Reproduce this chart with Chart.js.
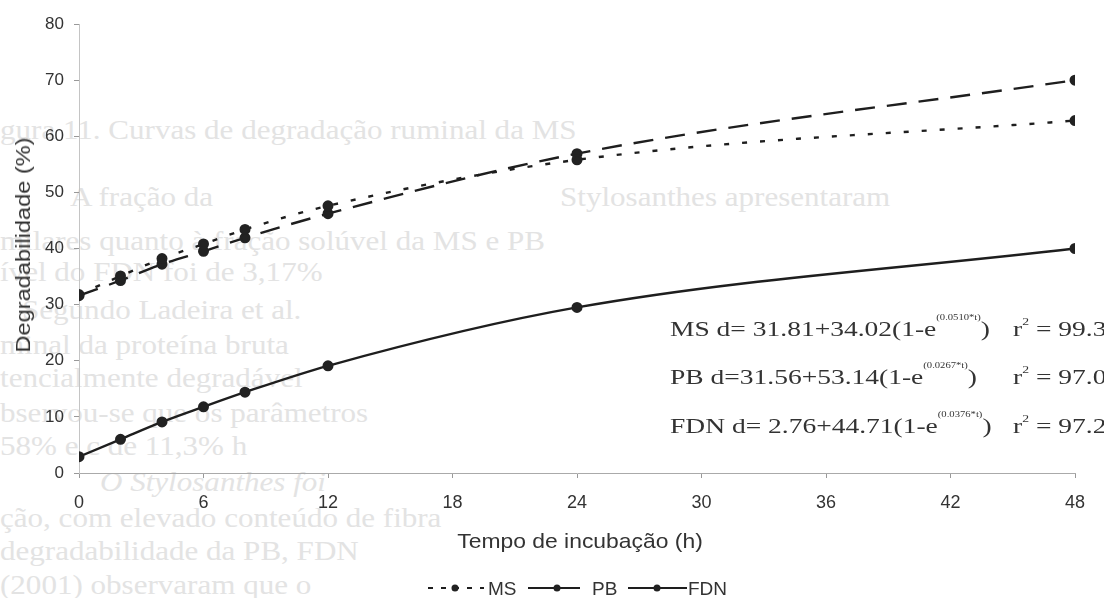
<!DOCTYPE html>
<html>
<head>
<meta charset="utf-8">
<script src="https://cdn.jsdelivr.net/npm/chart.js@4"></script>
<style>
  html, body { margin: 0; padding: 0; background: #fff; }
  #wrap { position: relative; width: 1104px; height: 598px; overflow: hidden; background: #fff; }
  #bg { position: absolute; left: 0; top: 0; width: 1104px; height: 598px; z-index: 0; }
  #bg div { position: absolute; font-family: "Liberation Serif", "DejaVu Serif", serif; font-size: 27px; color: #e3e3e3; white-space: nowrap; line-height: 1; transform-origin: left center; transform: scaleX(1.15); }
  #c { position: absolute; left: 0; top: 0; z-index: 1; }
  .eq { position: absolute; z-index: 2; font-family: "Liberation Serif", "DejaVu Serif", serif; font-size: 22px; color: #333; white-space: nowrap; line-height: 1; transform-origin: left center; transform: scaleX(1.25); }
  .eq sup { font-size: 8.5px; position: relative; top: -8px; }
  .r2 sup { font-size: 11px; top: -3px; }
  .ttl { position: absolute; z-index: 2; font-family: "Liberation Sans", Arial, sans-serif; color: #333; white-space: nowrap; line-height: 1; }
  .lg { position: absolute; z-index: 2; font-family: "Liberation Sans", Arial, sans-serif; font-size: 19px; color: #333; white-space: nowrap; line-height: 1; top: 579px; }
  #lgsvg { position: absolute; left: 0; top: 0; z-index: 2; }
</style>
</head>
<body>
<div id="wrap">
  <div id="bg">
    <div style="left:0px; top:117px;">gura 11. Curvas de degradação ruminal da MS</div>
    <div style="left:70px; top:184px;">A  fração  da</div>
    <div style="left:560px; top:184px;">Stylosanthes  apresentaram</div>
    <div style="left:0px; top:228px;">milares quanto à fração solúvel da MS e PB</div>
    <div style="left:0px; top:259px;">ível do FDN foi de 3,17%</div>
    <div style="left:22px; top:297px;">Segundo Ladeira et al.</div>
    <div style="left:0px; top:332px;">minal da  proteína  bruta</div>
    <div style="left:0px; top:365px;">tencialmente degradável</div>
    <div style="left:0px; top:400px;">bservou-se que os parâmetros</div>
    <div style="left:0px; top:433px;">58% e c de 11,3% h</div>
    <div style="left:100px; top:469px; font-style:italic;">O Stylosanthes foi</div>
    <div style="left:0px; top:505px;">ção, com elevado conteúdo de fibra</div>
    <div style="left:0px; top:538px;">degradabilidade da PB, FDN</div>
    <div style="left:0px; top:572px;">(2001) observaram que o</div>
  </div>
  <canvas id="c" width="1104" height="598"></canvas>
  <div class="eq" style="left:670px; top:318px;">MS d= 31.81+34.02(1-e<sup>(0.0510*t)</sup>)</div>
  <div class="eq r2" style="left:1013px; top:318px;">r<sup>2</sup> = 99.3</div>
  <div class="eq" style="left:670px; top:366px;">PB d=31.56+53.14(1-e<sup>(0.0267*t)</sup>)</div>
  <div class="eq r2" style="left:1013px; top:366px;">r<sup>2</sup> = 97.0</div>
  <div class="eq" style="left:670px; top:415px;">FDN d= 2.76+44.71(1-e<sup>(0.0376*t)</sup>)</div>
  <div class="eq r2" style="left:1013px; top:415px;">r<sup>2</sup> = 97.2</div>
  <div id="ytitle" class="ttl"></div>
  <div id="xtitle" class="ttl"></div>
  <svg id="lgsvg" width="1104" height="598"></svg>
</div>
<script>
// ---- data ----
const hours = [0, 2, 4, 6, 8, 12, 24, 48];
const msValues  = [31.8, 35.1, 38.2, 40.8, 43.4, 47.6, 55.8, 62.8];
const pbValues  = [31.6, 34.3, 37.2, 39.5, 41.9, 46.2, 56.9, 70.0];
const fdnValues = [2.9, 6.0, 9.1, 11.8, 14.4, 19.1, 29.5, 40.0];
const seriesNames = ["MS", "PB", "FDN"];
const xTicks = [0, 6, 12, 18, 24, 30, 36, 42, 48];
const yTicks = [0, 10, 20, 30, 40, 50, 60, 70, 80];
const xTitle = "Tempo de incubação (h)";
const yTitle = "Degradabilidade (%)";

const dashes = [[5, 13], [20, 12], []];
const lineColor = "#1e1e1e";

function pts(vals) { return hours.map((h, i) => ({ x: h, y: vals[i] })); }

const datasets = [msValues, pbValues, fdnValues].map((vals, i) => ({
  label: seriesNames[i],
  data: pts(vals),
  borderColor: lineColor,
  backgroundColor: lineColor,
  borderWidth: 2.4,
  borderDash: dashes[i],
  pointRadius: 4.3,
  pointHoverRadius: 4.3,
  pointBackgroundColor: "#222",
  pointBorderColor: "#222",
  cubicInterpolationMode: "monotone",
  fill: false
}));

const fontFam = "'Liberation Sans', Arial, sans-serif";

new Chart(document.getElementById("c"), {
  type: "line",
  data: { datasets },
  options: {
    responsive: false,
    animation: false,
    devicePixelRatio: 1,
    layout: { padding: { top: 24, right: 29, left: 0, bottom: 50 } },
    plugins: { legend: { display: false }, tooltip: { enabled: false } },
    scales: {
      x: {
        type: "linear",
        min: 0, max: 48,
        afterBuildTicks: s => { s.ticks = xTicks.map(v => ({ value: v })); },
        afterFit: s => { s.height = 75; },
        ticks: { font: { family: fontFam, size: 18 }, color: "#333", padding: 14, maxRotation: 0 },
        grid: { drawOnChartArea: false, drawTicks: true, tickLength: 5, color: "#999" },
        border: { display: true, color: "#aaa", dash: [3, 2], width: 1 }
      },
      y: {
        min: 0, max: 80,
        afterBuildTicks: s => { s.ticks = yTicks.map(v => ({ value: v })); },
        afterFit: s => { s.width = 79; },
        ticks: { font: { family: fontFam, size: 17 }, color: "#333", padding: 10 },
        grid: { drawOnChartArea: false, drawTicks: true, tickLength: 5, color: "#999" },
        border: { display: true, color: "#c4c4c4", dash: [2, 2], width: 1 }
      }
    }
  }
});

// axis titles (HTML text)
const yt = document.getElementById("ytitle");
yt.textContent = yTitle;
Object.assign(yt.style, { fontSize: "20px", left: "23px", top: "245px", transform: "translate(-50%,-50%) rotate(-90deg) scaleX(1.18)" });
const xt = document.getElementById("xtitle");
xt.textContent = xTitle;
Object.assign(xt.style, { fontSize: "21px", left: "580px", top: "540px", transform: "translate(-50%,-50%) scaleX(1.09)" });

// legend (line samples in SVG, names as HTML text)
const svgNS = "http://www.w3.org/2000/svg";
const lg = document.getElementById("lgsvg");
const legendSamples = [
  { x1: 428, x2: 484, dot: 455, dash: "5 8", text: 488 },
  { x1: 528, x2: 580, dot: 557, dash: "", text: 592 },
  { x1: 628, x2: 687, dot: 657, dash: "", text: 688 }
];
seriesNames.forEach((name, i) => {
  const s = legendSamples[i];
  const ln = document.createElementNS(svgNS, "line");
  ln.setAttribute("x1", s.x1); ln.setAttribute("x2", s.x2);
  ln.setAttribute("y1", 588); ln.setAttribute("y2", 588);
  ln.setAttribute("stroke", lineColor); ln.setAttribute("stroke-width", "2");
  if (s.dash) ln.setAttribute("stroke-dasharray", s.dash);
  lg.appendChild(ln);
  const c = document.createElementNS(svgNS, "circle");
  c.setAttribute("cx", s.dot); c.setAttribute("cy", 588); c.setAttribute("r", 3.5);
  c.setAttribute("fill", "#222");
  lg.appendChild(c);
  const t = document.createElement("div");
  t.className = "lg";
  t.textContent = name;
  t.style.left = s.text + "px";
  document.getElementById("wrap").appendChild(t);
});
</script>
</body>
</html>
